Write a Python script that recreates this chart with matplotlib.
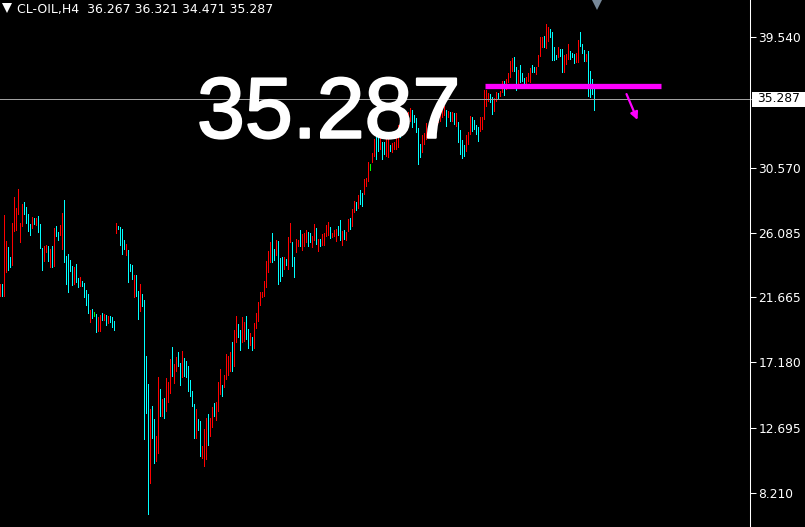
import matplotlib
matplotlib.use("Agg")
import matplotlib.pyplot as plt
from matplotlib import patheffects
from matplotlib.patches import Rectangle
import numpy as np

# chart header values
symbol = "CL-OIL,H4"
last_ohlc = [36.267, 36.321, 34.471, 35.287]
last_price = 35.287
price_ticks = [39.540, 30.570, 26.085, 21.665, 17.180, 12.695, 8.210]

# H4 bar highs / lows (oldest first)
highs = [
    22.57, 22.57, 27.31, 25.52, 25.11, 24.42, 26.76, 28.55, 27.79, 29.10,
    26.76, 28.07, 28.20, 27.86, 27.38, 26.69, 27.17, 27.10, 27.10, 27.24,
    26.69, 25.04, 25.18, 25.25, 25.18, 24.97, 25.18, 26.42, 26.56, 26.14,
    26.62, 27.45, 28.34, 24.49, 24.63, 24.22, 23.81, 23.74, 23.94, 22.98,
    23.05, 22.78, 22.64, 22.16, 21.88, 20.79, 20.85, 20.65, 20.51, 20.30,
    20.44, 20.58, 20.51, 20.44, 20.37, 20.37, 20.30, 20.03, 26.76, 26.56,
    26.49, 26.35, 25.59, 25.32, 24.91, 23.94, 23.87, 23.19, 23.19, 22.09,
    22.57, 21.88, 21.47, 17.62, 15.70, 13.98, 14.19, 13.30, 12.13, 16.18,
    15.36, 14.67, 14.74, 16.11, 15.84, 17.42, 18.24, 17.07, 17.55, 17.90,
    17.14, 17.97, 17.49, 17.28, 16.94, 15.97, 15.22, 14.33, 13.98, 13.30,
    13.16, 11.44, 12.61, 13.36, 13.64, 13.36, 14.12, 14.40, 14.46, 15.84,
    16.73, 15.63, 16.32, 17.76, 17.62, 17.90, 18.59, 19.41, 20.37, 19.82,
    19.41, 20.30, 19.96, 20.37, 19.48, 19.20, 18.93, 19.89, 20.58, 21.33,
    22.02, 22.02, 22.78, 24.15, 24.84, 25.45, 26.07, 24.97, 25.59, 25.52,
    24.36, 24.42, 24.42, 24.29, 25.80, 26.76, 25.45, 24.42, 25.66, 25.59,
    26.28, 26.00, 26.07, 26.28, 26.14, 26.07, 25.87, 26.69, 26.42, 25.66,
    25.66, 26.00, 26.07, 26.62, 26.83, 26.49, 26.07, 26.28, 26.35, 26.56,
    26.97, 26.21, 26.28, 26.14, 27.03, 27.10, 27.72, 28.27, 28.20, 28.68,
    29.03, 28.82, 29.78, 29.85, 30.95, 30.81, 31.57, 32.53, 33.01, 32.81,
    32.60, 32.33, 32.33, 32.81, 32.67, 32.12, 32.26, 32.33, 32.60, 33.49,
    33.77, 34.04, 34.32, 34.39, 34.39, 34.66, 34.52, 34.18, 33.97, 33.29,
    32.19, 32.81, 32.94, 33.63, 33.29, 33.77, 33.97, 33.70, 34.04, 34.25,
    34.66, 34.52, 34.80, 34.52, 34.45, 34.39, 34.39, 34.32, 34.32, 33.70,
    33.15, 32.46, 32.12, 32.81, 33.01, 34.11, 34.04, 33.84, 33.49, 33.36,
    34.04, 34.04, 35.90, 35.90, 35.69, 35.62, 35.42, 35.35, 35.76, 35.69,
    35.83, 36.52, 36.52, 36.65, 37.07, 37.89, 38.10, 38.17, 37.48, 37.27,
    37.61, 37.07, 36.72, 36.79, 37.07, 37.41, 37.61, 37.48, 37.48, 38.30,
    39.54, 39.54, 39.61, 40.43, 40.23, 40.09, 39.88, 38.85, 38.30, 38.85,
    38.71, 38.71, 38.30, 38.37, 39.06, 38.58, 38.44, 38.37, 38.44, 39.33,
    39.88, 39.06, 38.65, 38.37, 38.58, 37.20, 36.65, 36.32,
]
lows = [
    21.68, 21.68, 21.68, 23.32, 23.46, 23.67, 23.81, 26.14, 26.21, 27.31,
    25.39, 26.49, 27.31, 26.69, 26.14, 25.87, 26.35, 26.62, 26.56, 26.07,
    24.97, 23.46, 24.08, 24.70, 24.08, 23.67, 23.67, 23.74, 25.80, 25.52,
    25.87, 24.91, 24.01, 22.50, 21.95, 23.39, 22.43, 22.50, 22.64, 22.29,
    22.36, 22.36, 21.61, 21.06, 20.51, 19.89, 20.17, 20.30, 19.20, 19.27,
    19.27, 20.03, 20.03, 19.68, 19.82, 19.89, 19.55, 19.34, 26.00, 26.28,
    25.18, 24.56, 24.91, 24.49, 22.64, 23.39, 22.84, 21.61, 21.68, 20.10,
    20.65, 20.99, 11.85, 13.64, 6.70, 8.83, 11.92, 10.20, 10.34, 10.89,
    13.43, 13.43, 13.30, 13.78, 14.40, 15.01, 16.18, 15.70, 16.52, 16.87,
    15.56, 16.11, 16.18, 16.11, 15.15, 14.81, 14.12, 11.92, 11.92, 12.47,
    10.68, 10.55, 9.99, 10.48, 11.44, 12.06, 12.68, 13.43, 13.16, 13.78,
    14.94, 14.81, 15.42, 15.97, 16.25, 16.52, 16.52, 16.87, 18.52, 18.86,
    17.97, 18.52, 18.59, 18.72, 18.10, 18.31, 17.97, 18.10, 19.48, 19.96,
    21.06, 21.61, 21.68, 22.29, 23.32, 24.01, 24.01, 24.15, 24.49, 22.50,
    22.71, 23.05, 23.53, 23.81, 23.53, 25.39, 23.74, 22.98, 24.70, 25.11,
    25.11, 24.84, 25.11, 25.39, 25.11, 25.39, 25.04, 25.52, 25.25, 24.77,
    25.11, 25.18, 25.18, 25.80, 25.87, 25.66, 25.73, 25.80, 25.45, 25.87,
    25.52, 25.18, 25.59, 25.52, 26.14, 26.28, 26.49, 27.45, 27.59, 27.72,
    28.00, 27.86, 28.68, 29.23, 29.58, 30.33, 30.88, 31.30, 31.09, 31.64,
    31.78, 31.09, 31.43, 31.30, 31.23, 31.64, 31.57, 31.78, 31.78, 31.91,
    32.60, 33.29, 33.36, 33.63, 33.70, 33.70, 33.29, 33.63, 32.94, 30.75,
    31.23, 31.57, 32.12, 32.46, 32.67, 32.81, 33.29, 33.29, 33.36, 33.63,
    33.70, 33.97, 34.11, 33.36, 33.97, 33.70, 33.70, 33.49, 33.36, 32.26,
    31.43, 31.16, 31.30, 31.64, 32.12, 32.81, 33.01, 33.15, 32.81, 32.33,
    33.01, 33.15, 33.84, 34.73, 35.07, 35.00, 34.18, 34.39, 35.07, 35.21,
    35.42, 35.69, 35.49, 35.90, 36.38, 36.72, 37.13, 37.13, 35.83, 36.24,
    36.38, 36.45, 36.24, 36.24, 36.45, 36.38, 37.07, 37.07, 36.93, 37.48,
    38.17, 38.78, 38.78, 38.71, 39.19, 39.47, 37.89, 37.89, 37.96, 38.10,
    38.17, 37.07, 37.07, 37.61, 37.96, 37.96, 38.10, 37.68, 37.75, 37.75,
    38.85, 38.37, 37.82, 37.82, 35.42, 35.35, 35.55, 34.47,
]
# u = bull (red), d = bear (cyan), n = doji (green)
dirs = ("uduudduuuu" "uuddddudud" "dduudududd" "uudddddudd" "uddddudndu"
        "udududddud" "dddudddudd" "uddddudduu" "duduuuduud" "duddddddud"
        "duuuduuduu" "uduuuuduud" "duudduduuu" "uuuuuuddud" "dduduudduu"
        "duuudduudu" "duuuuduuud" "duduuduudu" "dduuunuudd" "udduuduuuu"
        "duuduudddd" "duuuuuuudu" "uuudududud" "ddduuudddd" "uuuuudduud"
        "uuduuuuddu" "ddduuudduu" "uuduuddddu" "dduuuddduu" "dddudddd")

# drawn objects on the chart
resistance = 36.14
resistance_bars = (242.25, 330.25)
arrow_start = (313.25, 35.62)
arrow_end = (318.75, 33.84)

bar_colors = {"u": "#ff0000", "d": "#00ffff", "n": "#00ff00"}

fig = plt.figure(figsize=(8.05, 5.27), dpi=100, facecolor="black")
ax = fig.add_axes([0, 0, 750 / 805, 1])
ax.set_facecolor("black")

# one bar slot = 2 px, each bar 1 px wide
x = np.arange(len(highs))
hi = np.array(highs)
lo = np.array(lows)
ax.bar(x, hi - lo, bottom=lo, width=0.5, align="edge",
       color=[bar_colors[d] for d in dirs], linewidth=0, antialiased=False,
       zorder=2)

ax.set_xlim(0, 375)
ax.set_ylim(42.082 - 527 * 0.0687, 42.082)

# current price line
ax.axhline(last_price, color="#a0a0a0", linewidth=0.7, antialiased=False, zorder=3)

# big price text
ax.text(98.5, 32.62, f"{last_price:.3f}", color="white", fontsize=62,
        family="Liberation Sans", ha="left", va="baseline", zorder=5,
        path_effects=[patheffects.withStroke(linewidth=1.5, foreground="white",
                                             capstyle="round", joinstyle="round")])

# magenta level + arrow
ax.plot(resistance_bars, [resistance, resistance], color="#ff00ff",
        linewidth=3.8, solid_capstyle="butt", zorder=6)
ax.annotate("", xy=arrow_end, xytext=arrow_start,
            arrowprops=dict(arrowstyle="-|>", color="#ff00ff", lw=1.6,
                            mutation_scale=11, shrinkA=0, shrinkB=0), zorder=6)

# chart shift marker
ax.plot([298.25], [42.082], marker="v", markersize=14, color="#778899",
        markeredgewidth=0, zorder=6)

# right price scale
ax.yaxis.tick_right()
ax.set_yticks(price_ticks)
ax.set_yticklabels([f"{v:.3f}" for v in price_ticks])
ax.set_xticks([])
ax.tick_params(axis="y", colors="white", length=4, width=0.75, pad=2,
               labelsize=8.8)
for side in ["top", "left", "bottom"]:
    ax.spines[side].set_visible(False)
ax.spines["right"].set_color("white")
ax.spines["right"].set_linewidth(0.75)

# current price tag on the scale
ax.plot([1.0, 1.01], [last_price, last_price], color="#a0a0a0", lw=0.7,
        transform=ax.get_yaxis_transform(), clip_on=False, antialiased=False)
fig.add_artist(Rectangle((752 / 805, 1 - 106.5 / 527), 53 / 805, 14.5 / 527,
                         transform=fig.transFigure, facecolor="white",
                         edgecolor="none"))
fig.text(757 / 805, 1 - 99 / 527, f"{last_price:.3f}", color="black",
         fontsize=8.8, ha="left", va="center")

# header
ax.plot([7 / 750], [1 - 7.5 / 527], transform=ax.transAxes, marker="v",
        markersize=7, color="white", markeredgewidth=0, clip_on=False)
fig.text(17 / 805, 1 - 9 / 527, symbol + "  " + " ".join(f"{v:.3f}" for v in last_ohlc),
         color="white", fontsize=9, ha="left", va="center")

fig.savefig("out.png", dpi=100, facecolor="black")
